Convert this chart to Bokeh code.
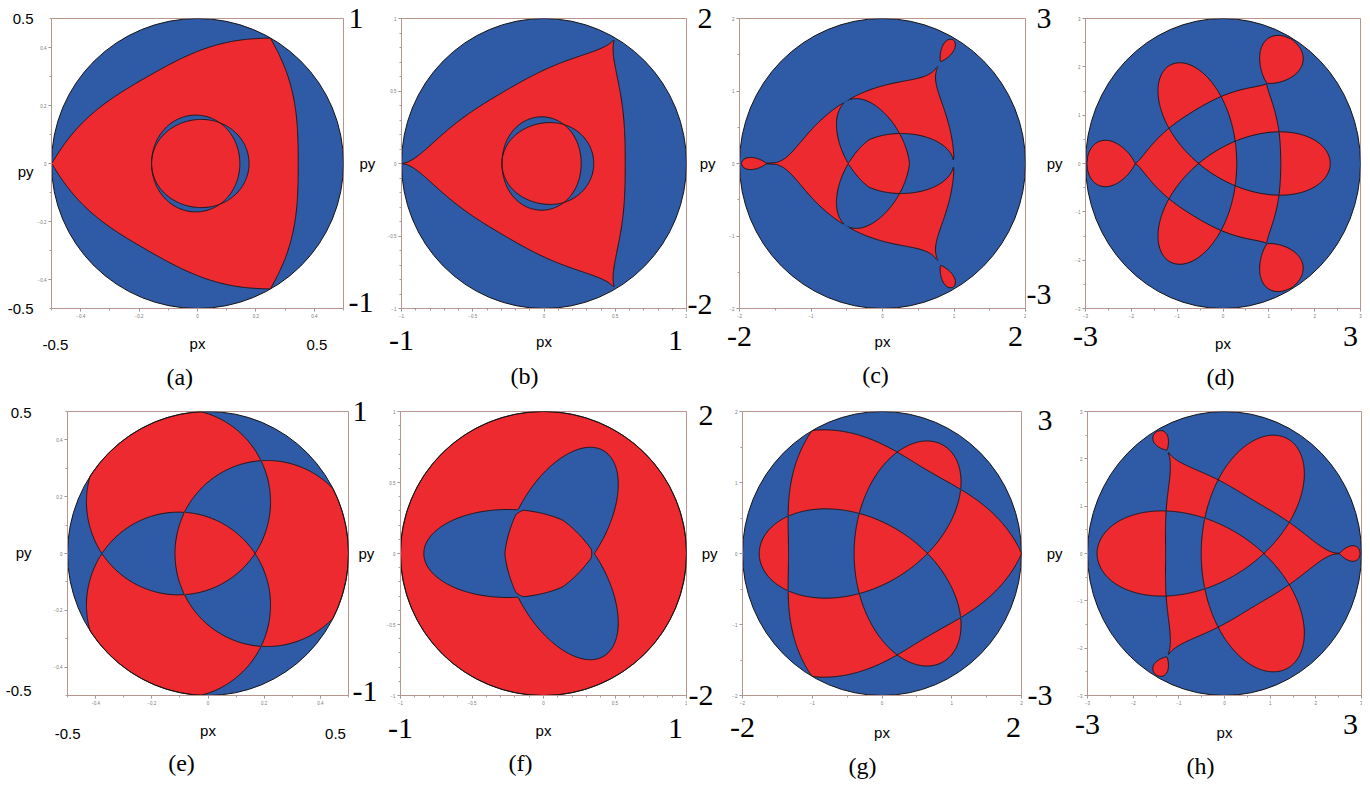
import numpy as np
from bokeh.plotting import figure
from bokeh.layouts import row, column
from bokeh.models import FixedTicker, Range1d, LinearAxis
from bokeh.embed import file_html
from bokeh.resources import INLINE

RED = "#EC2A2F"
BLUE = "#2F5AA6"
FRAME = "#B8968E"
INK = "#141414"

# ---------------- data ----------------
panel_ids = ["a", "b", "c", "d", "e", "f", "g", "h"]
captions = ["(a)", "(b)", "(c)", "(d)", "(e)", "(f)", "(g)", "(h)"]
half_ranges = [0.5, 1, 2, 3, 0.5, 1, 2, 3]
major_ticks = [[-0.4, -0.2, 0, 0.2, 0.4], [-1, -0.5, 0, 0.5, 1], [-2, -1, 0, 1, 2],
               [-3, -2, -1, 0, 1, 2, 3]] * 2
minor_steps = [0.1, 0.1, 0.5, 0.5, 0.1, 0.1, 0.5, 0.5]
corner_labels_x = [["-0.5", "0.5"], ["-1", "1"], ["-2", "2"], ["-3", "3"]] * 2
corner_labels_left = {"a": ["0.5", "py", "-0.5"], "e": ["0.5", "py", "-0.5"],
                      "c": ["2", "-2"], "g": ["2", "-2"], "d": ["3", "-3"], "h": ["3", "-3"]}
corner_labels_right = {"a": ["1", "-1"], "e": ["1", "-1"]}

# shapes, in units of the disc radius
# curved triangles: [corner radius, mid-edge radius, exponent, first corner angle]
tri_a = [1.00, 0.69, 0.9, 180]
tri_b = [1.00, 0.57, 0.55, 180]
tri_c = [0.81, 0.50, 0.35, 180]
tri_d = [0.64, 0.42, 0.7, 180]
tri_g = [1.00, 0.67, 1.05, 0]
tri_h = [0.84, 0.43, 0.5, 0]
# loops beyond the triangle corners: [start radius, tip radius, half width, p1, p2]
loops_c = [0.81, 0.985, 0.042, 0.9, 0.5]
loops_d = [0.64, 0.99, 0.16, 0.8, 0.5]
loops_h = [0.84, 0.99, 0.055, 0.9, 0.5]
# twin rings: [mean radius, shift, split, centre x]
rings_a = [0.318, 0.0135, 0.0315, -0.01]
rings_b = [0.300, 0.020, 0.044, -0.015]
# petals (ellipses): [centre distance, semi-major, semi-minor, first angle]
petals_c = [0.131, 0.367, 0.207, 0]
petals_f = [0.25, 0.587, 0.31, 180]
# discs: [centre distance, radius, first angle]
discs_e = [0.42, 0.655, 0]
# trefoil curves: [a, b, first lobe angle]
trefoil_d = [0.34, 0.44, 0]
trefoil_g = [0.34, 0.54, 180]
trefoil_h = [0.38, 0.55, 180]

# ---------------- fields ----------------
N = 281
g = np.linspace(-1.02, 1.02, N)
U, V = np.meshgrid(g, g)
RR = np.hypot(U, V)
TH = np.arctan2(V, U)


def xor(a, b):
    return np.minimum(np.maximum(a, b), -np.minimum(a, b))


def tri_field(p):
    rv, rm, q, ph = p
    s = np.abs(np.sin(1.5 * (TH - np.radians(ph))))
    return rv - (rv - rm) * s ** q - RR


def loop_field(p, ph):
    r0, r1, w, p1, p2 = p
    L = r1 - r0
    tt = np.linspace(0, 1, 2001)
    hmax = (tt ** p1 * (1 - tt) ** p2).max()
    out = []
    for k in range(3):
        ang = np.radians(ph + 120 * k)
        s = U * np.cos(ang) + V * np.sin(ang)
        nn = np.abs(-U * np.sin(ang) + V * np.cos(ang))
        t = (s - r0) / L
        tc = np.clip(t, 0, 1)
        h = w * tc ** p1 * (1 - tc) ** p2 / hmax
        out.append(np.where(t < 0, -nn + t * L, np.where(t > 1, -nn - (t - 1) * L, h - nn)))
    return np.max(out, axis=0)


def ring_fields(p):
    rho, m1, k, cx = p
    x = U - cx
    r = np.hypot(x, V)
    th = np.arctan2(V, x)
    base = rho + m1 * np.cos(th)
    d = 0.5 * k * (-np.cos(th) - np.cos(2 * th))
    return base + d - r, base - d - r


def ellipse_fields(p):
    dist, a, b, ph = p
    out = []
    for k in range(3):
        ang = np.radians(ph + 120 * k)
        cx, cy = dist * np.cos(ang), dist * np.sin(ang)
        x = (U - cx) * np.cos(ang) + (V - cy) * np.sin(ang)
        y = -(U - cx) * np.sin(ang) + (V - cy) * np.cos(ang)
        out.append(b * (1 - np.sqrt((x / a) ** 2 + (y / b) ** 2)))
    return out


def disc_fields(p):
    dist, rad, ph = p
    out = []
    for k in range(3):
        ang = np.radians(ph + 120 * k)
        out.append(rad - np.hypot(U - dist * np.cos(ang), V - dist * np.sin(ang)))
    return out


def poly_sdf(px, py):
    X = U.ravel()
    Y = V.ravel()
    x2, y2 = np.roll(px, -1), np.roll(py, -1)
    d2 = np.full(X.shape, np.inf)
    cnt = np.zeros(X.shape, dtype=np.int32)
    CH = 40
    for i in range(0, len(px), CH):
        a1, b1 = px[i:i + CH], py[i:i + CH]
        a2, b2 = x2[i:i + CH], y2[i:i + CH]
        dx, dy = a2 - a1, b2 - b1
        PX = X[:, None] - a1
        PY = Y[:, None] - b1
        t = np.clip((PX * dx + PY * dy) / (dx * dx + dy * dy), 0, 1)
        ex = PX - t * dx
        ey = PY - t * dy
        d2 = np.minimum(d2, (ex * ex + ey * ey).min(axis=1))
        up = (b1 > Y[:, None]) != (b2 > Y[:, None])
        dys = np.where(dy == 0, 1e-12, dy)
        xi = a1 + (Y[:, None] - b1) * dx / dys
        cnt += (up & (X[:, None] < xi)).sum(axis=1)
    d = np.sqrt(d2).reshape(U.shape)
    inside = (cnt % 2 == 1).reshape(U.shape)
    return np.where(inside, d, -d)


def trefoil_field(p, n=420):
    a, b, ph = p
    t = np.linspace(0, 2 * np.pi, n, endpoint=False)
    z = (a * np.exp(1j * t) + b * np.exp(-2j * t)) * np.exp(1j * np.radians(ph))
    return poly_sdf(z.real, z.imag)


red = {}
line_fields = {}
T = tri_field(tri_a)
A, B = ring_fields(rings_a)
red["a"] = xor(xor(T, A), B)
line_fields["a"] = [T, A, B]
T = tri_field(tri_b)
A, B = ring_fields(rings_b)
red["b"] = xor(xor(T, A), B)
line_fields["b"] = [T, A, B]
E = ellipse_fields(petals_c)
TL = np.maximum(tri_field(tri_c), loop_field(loops_c, tri_c[3]))
red["c"] = np.maximum(np.minimum(TL, -np.max(E, axis=0)), np.min(E, axis=0))
alpha = np.maximum(tri_field(tri_d), loop_field(loops_d, tri_d[3]))
red["d"] = xor(alpha, trefoil_field(trefoil_d))
D = disc_fields(discs_e)
red["e"] = xor(xor(D[0], D[1]), D[2])
E = ellipse_fields(petals_f)
red["f"] = np.maximum(-np.max(E, axis=0), np.min(E, axis=0))
red["g"] = xor(trefoil_field(trefoil_g), tri_field(tri_g))
alpha = np.maximum(tri_field(tri_h), loop_field(loops_h, tri_h[3]))
red["h"] = xor(alpha, trefoil_field(trefoil_h))

# ---------------- layout (page pixels) ----------------
cells_x = [0, 378, 687, 1026, 1362]
cells_y = [0, 392, 781]
row_frames_y = [(18, 309), (411, 697)]
frames_x = {"a": (51, 347), "b": (401, 686), "c": (739, 1025), "d": (1085, 1360),
            "e": (67, 348), "f": (400, 686), "g": (742, 1021), "h": (1087, 1361)}
# bottom: label x positions, font, label standoff, "px" standoff, caption x, caption standoff
bottom_cfg = {
    "a": ([55, 320], "s", 19, -18, 181, 9),
    "b": ([401, 675], "b", 10, -20, 524, 10),
    "c": ([739, 1015], "b", 6, -16, 875, 9),
    "d": ([1085, 1350], "b", 6, -14, 1220, 9),
    "e": ([67, 335], "s", 21, -20, 181, 8),
    "f": ([400, 675], "b", 11, -19, 520, 8),
    "g": ([742, 1013], "b", 10, -16, 862, 9),
    "h": ([1087, 1350], "b", 7, -13, 1200, 9),
}
# left: label y positions, font, standoff, "py" standoff (None: py is a tick label)
left_cfg = {
    "a": ([18, 172, 309], "s", 1, None),
    "e": ([412, 553, 692], "s", 19, None),
    "c": ([18, 305], "b", 14, -31),
    "d": ([18, 295], "b", 21, -39),
    "g": ([415, 697], "b", 16, -32),
    "h": ([420, 697], "b", 22, -38),
}
right_cfg = {
    "a": ([18, 303], "b", 5, -17),
    "e": ([411, 693], "b", 4, -22),
}
fonts = {"s": ("Liberation Sans", "15px"), "b": ("Liberation Serif", "30px"),
         "c": ("Liberation Serif", "24px")}


def text_axis(ticks, texts, kind, standoff, label=None, label_standoff=0, horizontal=False):
    ticks = [float(np.round(t, 6)) for t in ticks]
    ax = LinearAxis(ticker=FixedTicker(ticks=ticks, minor_ticks=[]),
                    major_label_overrides={t: s for t, s in zip(ticks, texts)})
    ax.axis_line_color = None
    ax.major_tick_line_color = None
    ax.minor_tick_line_color = None
    ax.major_tick_in = 0
    ax.major_tick_out = 0
    ax.minor_tick_in = 0
    ax.minor_tick_out = 0
    font, size = fonts[kind]
    ax.major_label_text_font = font
    ax.major_label_text_font_size = size
    ax.major_label_text_color = "black"
    ax.major_label_standoff = standoff
    if label is not None:
        ax.axis_label = label
        ax.axis_label_text_font = "Liberation Sans"
        ax.axis_label_text_font_size = "15px"
        ax.axis_label_text_font_style = "normal"
        ax.axis_label_text_color = "black"
        ax.axis_label_standoff = label_standoff
        if horizontal:
            ax.axis_label_orientation = "horizontal"
    return ax


figs = []
for idx, pid in enumerate(panel_ids):
    ri, ci = divmod(idx, 4)
    cl, cr = cells_x[ci], cells_x[ci + 1]
    ct, cb = cells_y[ri], cells_y[ri + 1]
    fl, fr = frames_x[pid]
    ft, fb = row_frames_y[ri]
    R = half_ranges[idx]
    p = figure(width=cr - cl, height=cb - ct, x_range=Range1d(-R, R), y_range=Range1d(-R, R),
               output_backend="svg", toolbar_location=None,
               min_border_left=fl - cl, min_border_right=cr - fr,
               min_border_top=ft - ct, min_border_bottom=cb - fb)
    p.grid.visible = False
    p.outline_line_color = FRAME
    p.outline_line_width = 1
    minor = [float(np.round(v, 3)) for v in np.arange(-R, R + 1e-9, minor_steps[idx])]
    for ax in (p.xaxis[0], p.yaxis[0]):
        ax.ticker = FixedTicker(ticks=major_ticks[idx], minor_ticks=minor)
        ax.axis_line_color = FRAME
        ax.major_tick_line_color = "#8a8a8a"
        ax.minor_tick_line_color = "#a0a0a0"
        ax.major_tick_in = 0
        ax.major_tick_out = 3
        ax.minor_tick_in = 0
        ax.minor_tick_out = 2
        ax.major_label_text_font = "Liberation Sans"
        ax.major_label_text_font_size = "4.5px"
        ax.major_label_text_color = "#777777"
        ax.major_label_standoff = 2

    p.ellipse(x=[0], y=[0], width=[2 * R], height=[2 * R], fill_color=BLUE, line_color=None)
    F = np.minimum(red[pid], 1.0 - RR)
    if pid in line_fields:
        p.contour(x=g * R, y=g * R, z=F, levels=[0, 50], fill_color=RED, line_color=None)
        for lf in line_fields[pid]:
            p.contour(x=g * R, y=g * R, z=lf, levels=[0], line_color=INK, line_width=0.9)
    else:
        p.contour(x=g * R, y=g * R, z=F, levels=[0, 50], fill_color=RED,
                  line_color=INK, line_width=0.9)
    p.ellipse(x=[0], y=[0], width=[2 * R], height=[2 * R], fill_color=None,
              line_color=INK, line_width=1)

    lim = R * 0.9995

    def dx(x):
        return float(np.clip(-R + (x - fl) / (fr - fl) * 2 * R, -lim, lim))

    def dy(y):
        return float(np.clip(R - (y - ft) / (fb - ft) * 2 * R, -lim, lim))

    xs, kind, s2, s_al, capx, s3 = bottom_cfg[pid]
    p.add_layout(text_axis([dx(x) for x in xs], corner_labels_x[idx], kind, s2,
                           label="px", label_standoff=s_al), "below")
    p.add_layout(text_axis([dx(capx)], [captions[idx]], "c", s3), "below")
    if pid in left_cfg:
        ys, kind, s, s_al = left_cfg[pid]
        if s_al is None:
            p.add_layout(text_axis([dy(y) for y in ys], corner_labels_left[pid], kind, s), "left")
        else:
            p.add_layout(text_axis([dy(y) for y in ys], corner_labels_left[pid], kind, s,
                                   label="py", label_standoff=s_al, horizontal=True), "left")
    if pid in right_cfg:
        ys, kind, s, s_al = right_cfg[pid]
        p.add_layout(text_axis([dy(y) for y in ys], corner_labels_right[pid], kind, s,
                               label="py", label_standoff=s_al, horizontal=True), "right")
    figs.append(p)

layout = column(row(*figs[:4]), row(*figs[4:]))
open("out.html", "w").write(file_html(layout, INLINE))
